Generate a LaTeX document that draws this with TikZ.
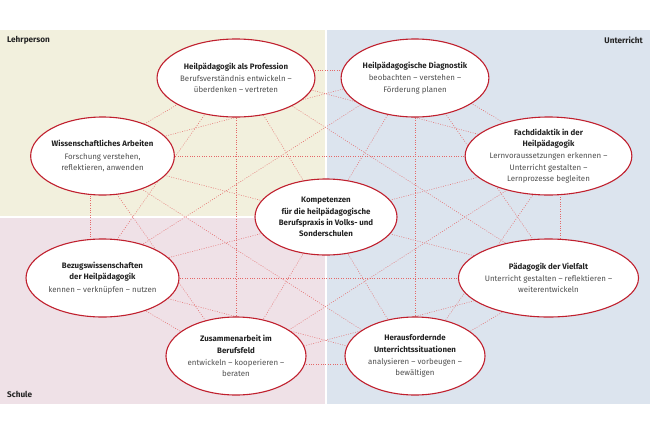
\documentclass[tikz,border=0pt]{standalone}
\usepackage{fontspec}
\setmainfont{Fira Sans}
\usetikzlibrary{shapes.geometric,calc}
\definecolor{beige}{RGB}{242,240,221}
\definecolor{rosa}{RGB}{239,225,231}
\definecolor{blau}{RGB}{220,228,238}
\definecolor{ellred}{RGB}{192,32,46}
\definecolor{linkred}{RGB}{228,105,105}
\definecolor{titletext}{RGB}{35,35,35}
\definecolor{bodytext}{RGB}{80,80,80}
\newcommand\nodetitle[1]{{\color{titletext}\bfseries #1}}
\pgfdeclarelayer{bglayer}
\pgfdeclarelayer{linklayer}
\pgfsetlayers{bglayer,linklayer,main}
\begin{document}
\begin{tikzpicture}[x=1pt,y=-1pt,
  ell/.style={ellipse, draw=ellred, line width=1.1pt, fill=white,
    minimum width=140pt, minimum height=78pt, inner sep=0pt, align=center,
    font=\fontsize{7.9}{11.2}\selectfont, text=bodytext},
  link/.style={draw=linkred, line width=0.5pt, dash pattern=on 0.9pt off 1.5pt},
  corner/.style={font=\fontsize{8.2}{9}\selectfont\bfseries, text=titletext, inner sep=0pt}]
\useasboundingbox (0,0) rectangle (650,434);
\begin{pgfonlayer}{bglayer}
  \fill[beige] (0,30) rectangle (325,216);
  \fill[rosa] (0,218) rectangle (325,404);
  \fill[blau] (327,30) rectangle (650,404);
\end{pgfonlayer}
\node[corner, anchor=west] (lp) at (7,40) {Lehrperson};
\node[corner, anchor=east] (ut) at (643,40) {Unterricht};
\node[corner, anchor=west] (sc) at (7,394) {Schule};

\node[ell] (n1) at (236,78) {\nodetitle{Heilpädagogik als Profession}\\[1pt]Berufsverständnis entwickeln –\\überdenken – vertreten};
\node[ell] (n2) at (415,78) {\nodetitle{Heilpädagogische Diagnostik}\\[1pt]beobachten – verstehen –\\Förderung planen};
\node[ell] (n3) at (548.5,156) {\nodetitle{Fachdidaktik in der}\\\nodetitle{Heilpädagogik}\\[1pt]Lernvoraussetzungen erkennen –\\Unterricht gestalten –\\Lernprozesse begleiten};
\node[ell] (n4) at (548.5,278) {\nodetitle{Pädagogik der Vielfalt}\\[1pt]Unterricht gestalten – reflektieren –\\weiterentwickeln};
\node[ell] (n5) at (415,356) {\nodetitle{Herausfordernde}\\\nodetitle{Unterrichtssituationen}\\[1pt]analysieren – vorbeugen –\\bewältigen};
\node[ell] (n6) at (236,356) {\nodetitle{Zusammenarbeit im}\\\nodetitle{Berufsfeld}\\[1pt]entwickeln – kooperieren –\\beraten};
\node[ell] (n7) at (102.5,278) {\nodetitle{Bezugswissenschaften}\\\nodetitle{der Heilpädagogik}\\[1pt]kennen – verknüpfen – nutzen};
\node[ell] (n8) at (102.5,156) {\nodetitle{Wissenschaftliches Arbeiten}\\[1pt]Forschung  verstehen,\\reflektieren, anwenden};
\node[ell, minimum width=142pt, minimum height=76pt] (n0) at (326,217) {\nodetitle{Kompetenzen}\\\nodetitle{für die heilpädagogische}\\\nodetitle{Berufspraxis in Volks- und}\\\nodetitle{Sonderschulen}};

\coordinate (p1) at ($(n1.center)+(0,-8)$);
\coordinate (p2) at ($(n2.center)+(0,-8)$);
\coordinate (p3) at ($(n3.center)+(11.5,0)$);
\coordinate (p4) at ($(n4.center)+(11.5,0)$);
\coordinate (p5) at ($(n5.center)+(0,8)$);
\coordinate (p6) at ($(n6.center)+(0,8)$);
\coordinate (p7) at ($(n7.center)+(-12.5,0)$);
\coordinate (p8) at ($(n8.center)+(-12.5,0)$);
\begin{pgfonlayer}{linklayer}
  \foreach \a/\b in {1/2,1/3,1/4,1/5,1/6,1/7,1/8,
                     2/3,2/4,2/5,2/6,2/7,2/8,
                     3/4,3/5,3/6,3/7,3/8,
                     4/5,4/6,4/7,4/8,
                     5/6,5/7,5/8,
                     6/7,6/8,
                     7/8}
    \draw[link] (p\a) -- (p\b);
\end{pgfonlayer}
\end{tikzpicture}
\end{document}
